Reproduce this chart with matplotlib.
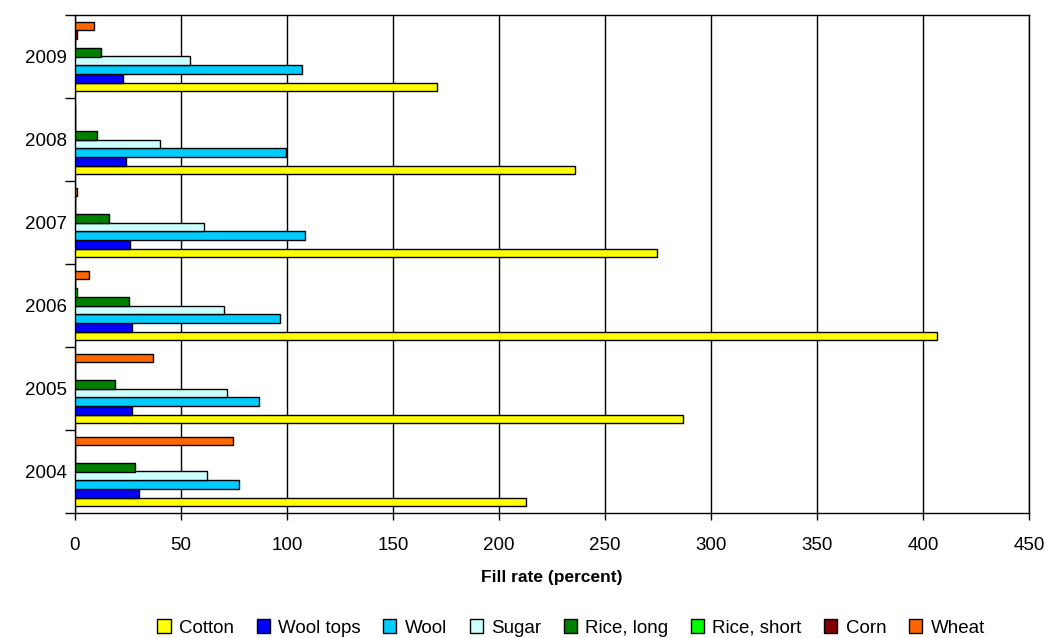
import matplotlib.pyplot as plt
import numpy as np
from matplotlib.patches import Patch

plt.rcParams['font.family'] = ['Liberation Sans', 'DejaVu Sans']

years = ['2004', '2005', '2006', '2007', '2008', '2009']
series = ['Cotton', 'Wool tops', 'Wool', 'Sugar', 'Rice, long', 'Rice, short', 'Corn', 'Wheat']
colors = ['#FFFF00', '#0000FF', '#00CCFF', '#CCFFFF', '#008000', '#00FF00', '#800000', '#FF6600']

# values per series, ordered 2004..2009
cotton = [212.7, 287.0, 406.6, 274.5, 236.0, 170.8]
wool_tops = [30.0, 26.7, 26.7, 26.1, 24.2, 22.8]
wool = [77.5, 86.8, 96.7, 108.5, 99.5, 107.0]
sugar = [62.3, 71.5, 70.1, 61.0, 40.0, 54.4]
rice_long = [28.2, 19.0, 25.5, 16.2, 10.2, 12.3]
rice_short = [0, 0, 0.9, 0, 0, 0]
corn = [0, 0, 0, 0, 0, 1.1]
wheat = [74.7, 36.6, 6.4, 1.0, 0, 9.1]

data = [cotton, wool_tops, wool, sugar, rice_long, rice_short, corn, wheat]

fig = plt.figure(figsize=(10.46, 6.38), dpi=100)
ax = fig.add_axes([75 / 1046, 1 - 513 / 638, (1029 - 75) / 1046, (513 - 15) / 638])

n = len(series)
w = 1 / (n + 1.5)
y = np.arange(len(years))
for i, (vals, c) in enumerate(zip(data, colors)):
    ax.barh(y + (i - (n - 1) / 2) * w, vals, height=w, color=c,
            edgecolor='black', linewidth=1.0, zorder=3)

ax.set_xlim(0, 450)
ax.set_ylim(-0.5, len(years) - 0.5)
ax.set_xticks(np.arange(0, 451, 50))
ax.set_yticks(y)
ax.set_yticklabels(years)
ax.set_yticks(np.arange(-0.5, len(years), 1), minor=True)
ax.tick_params(axis='y', which='major', length=0, labelsize=13.5, pad=6)
ax.tick_params(axis='y', which='minor', length=7, width=1, color='black')
ax.tick_params(axis='x', length=5, width=1, labelsize=13.5, pad=12)
ax.grid(axis='x', color='black', linewidth=1, zorder=0)
for s in ax.spines.values():
    s.set_color('black')
    s.set_linewidth(1)

ax.set_xlabel('Fill rate (percent)', fontsize=12.5, fontweight='bold', labelpad=12)

handles = [Patch(facecolor=c, edgecolor='black', linewidth=1, label=s) for s, c in zip(series, colors)]
fig.legend(handles=handles, loc='center', bbox_to_anchor=(0.546, 1 - 628 / 638), ncol=n,
           frameon=False, fontsize=13.5, handlelength=0.7, handleheight=0.7,
           handletextpad=0.45, columnspacing=1.2, borderaxespad=0)

fig.savefig('out.png', dpi=100)
